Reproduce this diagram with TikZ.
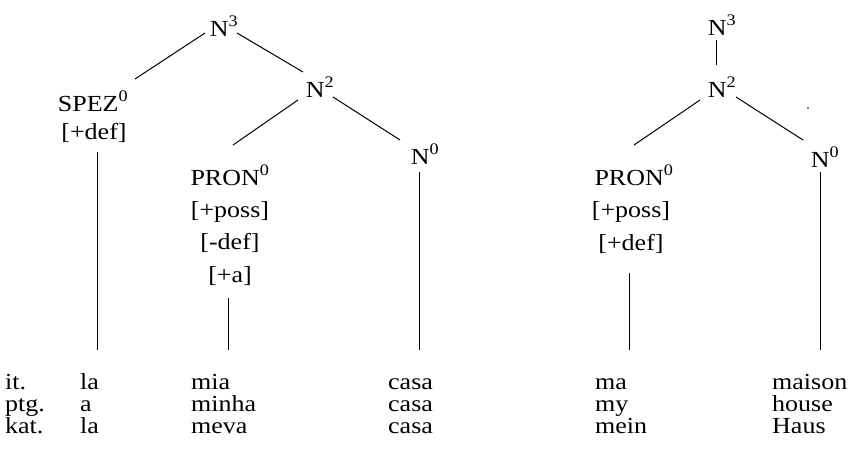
\documentclass[tikz,border=0pt]{standalone}
\usepackage{fontspec}
\setmainfont{Liberation Serif}[FakeStretch=1.13]
\begin{document}
\begin{tikzpicture}[x=1pt, y=-1pt]
        \tikzset{
            lbl/.style={inner sep=0pt, anchor=base, font=\fontsize{23}{25}\selectfont},
            word/.style={lbl, anchor=base west},
            br/.style={line width=1pt, black}
        }
        \useasboundingbox (0,0) rectangle (864,453);

        % left tree
        \node[lbl] (N3a) at (224,36) {N\textsuperscript{3}};
        \node[lbl] (N2a) at (320,97) {N\textsuperscript{2}};
        \node[lbl] (spez) at (93,111) {SPEZ\textsuperscript{0}};
        \node[lbl] (spezf) at (94,139) {[+def]};
        \node[lbl] (pron) at (230,185) {PRON\textsuperscript{0}};
        \node[lbl] (poss) at (230,217) {[+poss]};
        \node[lbl] (mdef) at (230,249) {[-def]};
        \node[lbl] (pa) at (230,282) {[+a]};
        \node[lbl] (Na0) at (425,164) {N\textsuperscript{0}};

        % right tree
        \node[lbl] (N3b) at (722,35) {N\textsuperscript{3}};
        \node[lbl] (N2b) at (722,97) {N\textsuperscript{2}};
        \node[lbl] (pronb) at (634,185) {PRON\textsuperscript{0}};
        \node[lbl] (possb) at (631,217) {[+poss]};
        \node[lbl] (defb) at (631,250) {[+def]};
        \node[lbl] (Nb0) at (825,167) {N\textsuperscript{0}};

        % words
        \node[word] (it) at (5,389) {it.};
        \node[word] (art1) at (80,389) {la};
        \node[word] (pos1) at (191,389) {mia};
        \node[word] (noun1) at (388,389) {casa};
        \node[word] (fpos) at (595,389) {ma};
        \node[word] (fnoun) at (772,389) {maison};
        \node[word] (ptg) at (5,411) {ptg.};
        \node[word] (art2) at (80,411) {a};
        \node[word] (pos2) at (191,411) {minha};
        \node[word] (noun2) at (388,411) {casa};
        \node[word] (epos) at (595,411) {my};
        \node[word] (enoun) at (772,411) {house};
        \node[word] (kat) at (5,433) {kat.};
        \node[word] (art3) at (80,433) {la};
        \node[word] (pos3) at (191,433) {meva};
        \node[word] (noun3) at (388,433) {casa};
        \node[word] (gpos) at (595,433) {mein};
        \node[word] (gnoun) at (772,433) {Haus};

        \coordinate (e1) at (97,350);
        \coordinate (e2) at (228,350);
        \coordinate (e3) at (419,350);
        \coordinate (e4) at (629,350);
        \coordinate (e5) at (820,350);

        \draw[br] ([shift={(-19,-3)}]N3a.base) -- ([shift={(42,-32)}]spez.base);
        \draw[br] ([shift={(13,-3)}]N3a.base) -- ([shift={(-17,-25)}]N2a.base);
        \draw[br] ([shift={(-22,3)}]N2a.base) -- ([shift={(3,-40)}]pron.base);
        \draw[br] ([shift={(13,0)}]N2a.base) -- ([shift={(-25,-24)}]Na0.base);
        \draw[br] ([shift={(3,13)}]spezf.base) -- (e1);
        \draw[br] ([shift={(-2,16)}]pa.base) -- (e2);
        \draw[br] ([shift={(-6,8)}]Na0.base) -- (e3);

        \draw[br] ([shift={(-6,5)}]N3b.base) -- ([shift={(-6,-32)}]N2b.base);
        \draw[br] ([shift={(-22,3)}]N2b.base) -- ([shift={(0,-40)}]pronb.base);
        \draw[br] ([shift={(14,0)}]N2b.base) -- ([shift={(-22,-27)}]Nb0.base);
        \draw[br] ([shift={(-2,23)}]defb.base) -- (e4);
        \draw[br] ([shift={(-5,5)}]Nb0.base) -- (e5);
        \fill (808,108) circle (0.9);
\end{tikzpicture}
\end{document}
